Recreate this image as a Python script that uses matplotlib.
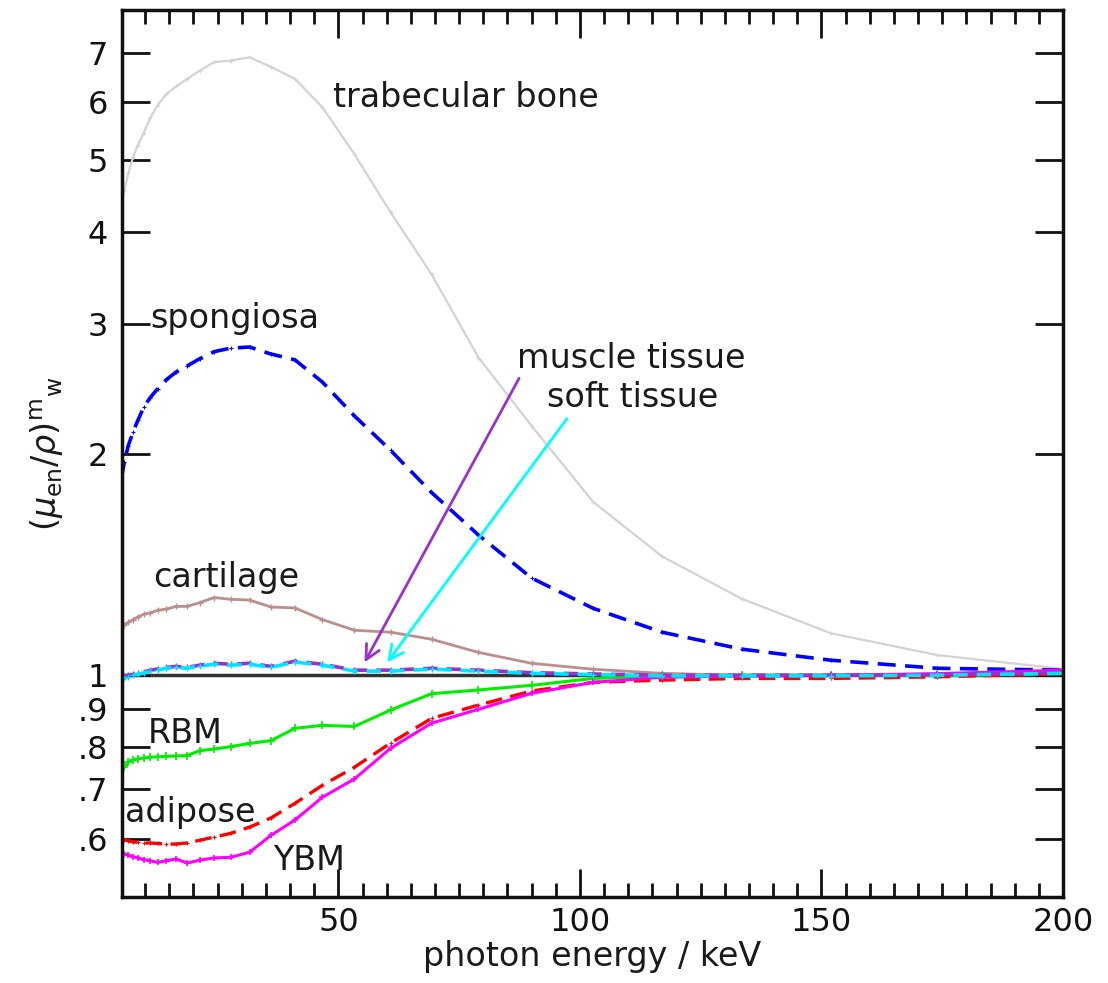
import numpy as np
import matplotlib
matplotlib.use('Agg')
import matplotlib.pyplot as plt
from matplotlib.ticker import MultipleLocator, NullLocator

### photon energies (keV) of the data points ###
energy = [5, 5.7, 6.5, 7.5, 8.5, 9.7, 11, 12.6, 14.4, 16.4, 18.7, 21.3, 24.3, 27.7,
          31.6, 36, 41, 46.7, 53.3, 60.8, 69.3, 79, 90, 102.7, 117, 133.5, 152, 174, 200]

### (mu_en/rho) ratios medium / water ###
trabecular = [4.3, 4.55, 4.8, 5.05, 5.25, 5.45, 5.7, 5.95, 6.15, 6.3, 6.45, 6.62, 6.8, 6.83,
              6.9, 6.7, 6.45, 5.9, 5.1, 4.25, 3.5, 2.7, 2.18, 1.72, 1.45, 1.27, 1.14, 1.065, 1.02]
spongiosa = [1.84, 1.95, 2.05, 2.14, 2.22, 2.31, 2.38, 2.45, 2.52, 2.58, 2.63, 2.69, 2.75, 2.78,
             2.79, 2.73, 2.68, 2.5, 2.25, 2.02, 1.77, 1.55, 1.355, 1.233, 1.144, 1.085, 1.048, 1.022, 1.016]
cartilage = [1.16, 1.17, 1.18, 1.19, 1.20, 1.21, 1.215, 1.225, 1.23, 1.24, 1.24, 1.255, 1.275, 1.268,
             1.265, 1.238, 1.234, 1.19, 1.151, 1.144, 1.119, 1.074, 1.038, 1.019, 1.006, 1.0, 1.0, 1.0, 1.01]
muscle = [0.995, 0.998, 1.0, 1.003, 1.006, 1.01, 1.015, 1.02, 1.025, 1.028, 1.025, 1.032, 1.038, 1.035,
          1.038, 1.028, 1.045, 1.035, 1.016, 1.016, 1.022, 1.016, 1.008, 1.004, 1.0, 1.0, 1.0, 1.002, 1.008]
soft = [0.985, 0.99, 0.995, 1.0, 1.003, 1.007, 1.012, 1.017, 1.022, 1.025, 1.022, 1.029, 1.035, 1.032,
        1.035, 1.025, 1.042, 1.032, 1.013, 1.013, 1.019, 1.013, 1.006, 1.002, 0.998, 0.998, 0.998, 1.0, 1.006]
rbm = [0.748, 0.75, 0.762, 0.768, 0.77, 0.772, 0.774, 0.775, 0.776, 0.777, 0.778, 0.79, 0.794, 0.80,
       0.808, 0.815, 0.847, 0.855, 0.852, 0.897, 0.944, 0.955, 0.969, 0.99, 0.997, 1.0, 1.0, 1.0, 1.005]
adipose = [0.6, 0.598, 0.596, 0.594, 0.593, 0.592, 0.592, 0.591, 0.59, 0.59, 0.592, 0.597, 0.603, 0.61,
           0.622, 0.64, 0.67, 0.709, 0.75, 0.809, 0.874, 0.911, 0.952, 0.978, 0.985, 0.99, 0.99, 0.995, 1.005]
ybm = [0.575, 0.572, 0.57, 0.567, 0.565, 0.562, 0.56, 0.557, 0.56, 0.563, 0.556, 0.561, 0.565, 0.566,
       0.575, 0.606, 0.636, 0.683, 0.723, 0.796, 0.861, 0.899, 0.945, 0.978, 0.994, 0.997, 1.0, 1.005, 1.016]

yticks = [0.6, 0.7, 0.8, 0.9, 1, 2, 3, 4, 5, 6, 7]
ylabels = ['.6', '.7', '.8', '.9', '1', '2', '3', '4', '5', '6', '7']
xticks = [50, 100, 150, 200]

### figure ###
fig = plt.figure(figsize=(11.08, 9.83), dpi=100)
ax = fig.add_axes([0.1101, 0.0875, 0.8493, 0.9023])
fsize = 24
txtc = '#1a1a1a'

ax.axhline(1, color='#333333', lw=2.5, zorder=1)

ax.plot(energy, trabecular, color='#d3d3d3', lw=1.6, marker='+', ms=3, mew=0.8)
ax.plot(energy, spongiosa, color='#0000ff', lw=2.6, ls=(0, (5, 2.6)), marker='+', ms=3, mew=0.8)
ax.plot(energy, cartilage, color='#bc8f8f', lw=2, marker='+', ms=5, mew=1)
ax.plot(energy, rbm, color='#00ee00', lw=2.2, marker='+', ms=6, mew=1.2)
ax.plot(energy, adipose, color='#ff0000', lw=2.4, ls=(0, (5, 2.5)), marker='+', ms=3, mew=0.8)
ax.plot(energy, ybm, color='#ff00ff', lw=2.2, marker='+', ms=5, mew=1.2)
ax.plot(energy, muscle, color='#9932cc', lw=2.6, ls=(0, (4, 2.5)), marker='+', ms=4, mew=1)
ax.plot(energy, soft, color='#00e5ff', lw=2.6, ls=(2.5, (4, 2.5)), marker='+', ms=4, mew=1)

### axes ###
ax.set_xlim(5.2, 200)
ax.set_yscale('log')
ax.set_ylim(0.5, 8)
ax.set_yticks(yticks, labels=ylabels)
ax.yaxis.set_minor_locator(NullLocator())
ax.set_xticks(xticks)
ax.xaxis.set_minor_locator(MultipleLocator(5))
ax.tick_params(which='both', direction='in', top=True, right=True, width=2, colors='#111111')
ax.tick_params(which='major', length=20, labelsize=23)
ax.tick_params(which='minor', length=10)
ax.tick_params(axis='y', pad=10)
ax.tick_params(axis='x', pad=7)
for s in ax.spines.values():
    s.set_linewidth(2.5)
    s.set_color('#111111')

ax.set_xlabel('photon energy / keV', fontsize=fsize, color=txtc, labelpad=2)
ax.set_ylabel(r'$(\mu_{\rm en}/\rho)^{\rm m}{}_{\rm w}$', fontsize=fsize, color=txtc, labelpad=8)

### labels ###
ax.text(48.8, 6.09, 'trabecular bone', fontsize=fsize, color=txtc, va='center')
ax.text(11, 3.05, 'spongiosa', fontsize=fsize, color=txtc, va='center')
ax.text(11.6, 1.358, 'cartilage', fontsize=fsize, color=txtc, va='center')
ax.text(110.7, 2.69, 'muscle tissue', fontsize=fsize, color=txtc, va='center', ha='center')
ax.text(111, 2.38, 'soft tissue', fontsize=fsize, color=txtc, va='center', ha='center')
ax.text(10.5, 0.834, 'RBM', fontsize=fsize, color=txtc, va='center')
ax.text(5.8, 0.652, 'adipose', fontsize=fsize, color=txtc, va='center')
ax.text(36.4, 0.561, 'YBM', fontsize=fsize, color=txtc, va='center')

ax.annotate('', xy=(55.4, 1.041), xytext=(87.4, 2.53),
            arrowprops=dict(arrowstyle='->', color='#9932cc', lw=2, mutation_scale=26, shrinkA=0, shrinkB=0))
ax.annotate('', xy=(60.1, 1.041), xytext=(97.3, 2.23),
            arrowprops=dict(arrowstyle='->', color='#00ffff', lw=2, mutation_scale=26, shrinkA=0, shrinkB=0))

fig.savefig('out.png', dpi=100)
